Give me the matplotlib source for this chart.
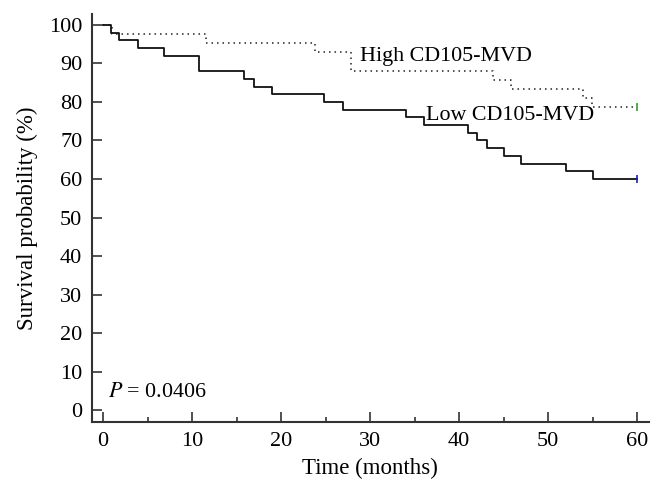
import numpy as np
import matplotlib.pyplot as plt
from matplotlib.ticker import MultipleLocator

# Kaplan-Meier steps
low_t = [0, 0.9, 1.8, 3.9, 6.9, 10.8, 15.8, 16.9, 19.0, 24.8, 26.9, 34.0, 36.0,
         41.0, 42.0, 43.1, 45.0, 47.0, 52.0, 55.0, 60]
low_s = [100, 98, 96, 94, 92, 88, 86, 84, 82, 80, 78, 76, 74,
         72, 70, 68, 66, 64, 62, 60, 60]
high_t = [0, 1.0, 11.6, 23.8, 27.8, 43.8, 45.8, 53.9, 54.9, 60]
high_s = [100, 97.6, 95.2, 92.9, 88.1, 85.7, 83.3, 81.0, 78.6, 78.6]

x_ticks = [0, 10, 20, 30, 40, 50, 60]
y_ticks = [0, 10, 20, 30, 40, 50, 60, 70, 80, 90, 100]

plt.rcParams['font.family'] = ['Liberation Serif', 'DejaVu Serif']

fig = plt.figure(figsize=(6.62, 4.97), dpi=100)
ax = fig.add_axes([0.139, 0.151, 0.841, 0.821])

ax.plot(high_t, high_s, drawstyle='steps-post', color='#222222', lw=1.1,
        linestyle=(0, (1, 2.6)))
ax.plot(low_t, low_s, drawstyle='steps-post', color='#111111', lw=1.3)
# censor marks at the end
ax.plot([high_t[-1]], [high_s[-1]], marker='|', color='#2ca02c', ms=6, mew=1.2)
ax.plot([low_t[-1]], [low_s[-1]], marker='|', color='#1f1fbf', ms=6, mew=1.2)

ax.text(28.9, 91.7, 'High CD105-MVD', fontsize=15.8, va='center', ha='left')
ax.text(36.3, 76.6, 'Low CD105-MVD', fontsize=15.8, va='center', ha='left')
ax.text(0.5, 4.7, r'$P$ = 0.0406', fontsize=15.8, va='center', ha='left',
        math_fontfamily='stix')

ax.set_xlim(-1.24, 61.3)
ax.set_ylim(-3.05, 102.85)
ax.set_xticks(x_ticks)
ax.set_yticks(y_ticks)
ax.xaxis.set_minor_locator(MultipleLocator(5))
ax.tick_params(direction='in', length=7.2, width=1.2, labelsize=16, color='#333333')
ax.tick_params(axis='x', which='minor', direction='in', length=3.6, width=1.2,
               color='#333333')
ax.tick_params(axis='x', pad=7.5)
ax.tick_params(axis='y', pad=7)

for s in ['top', 'right']:
    ax.spines[s].set_visible(False)
for s in ['left', 'bottom']:
    ax.spines[s].set_linewidth(1.5)
    ax.spines[s].set_color('#333333')

ax.set_xlabel('Time (months)', fontsize=16.5, labelpad=5)
ax.set_ylabel('Survival probability (%)', fontsize=16.5, labelpad=8)

fig.savefig('out.png', dpi=100)
